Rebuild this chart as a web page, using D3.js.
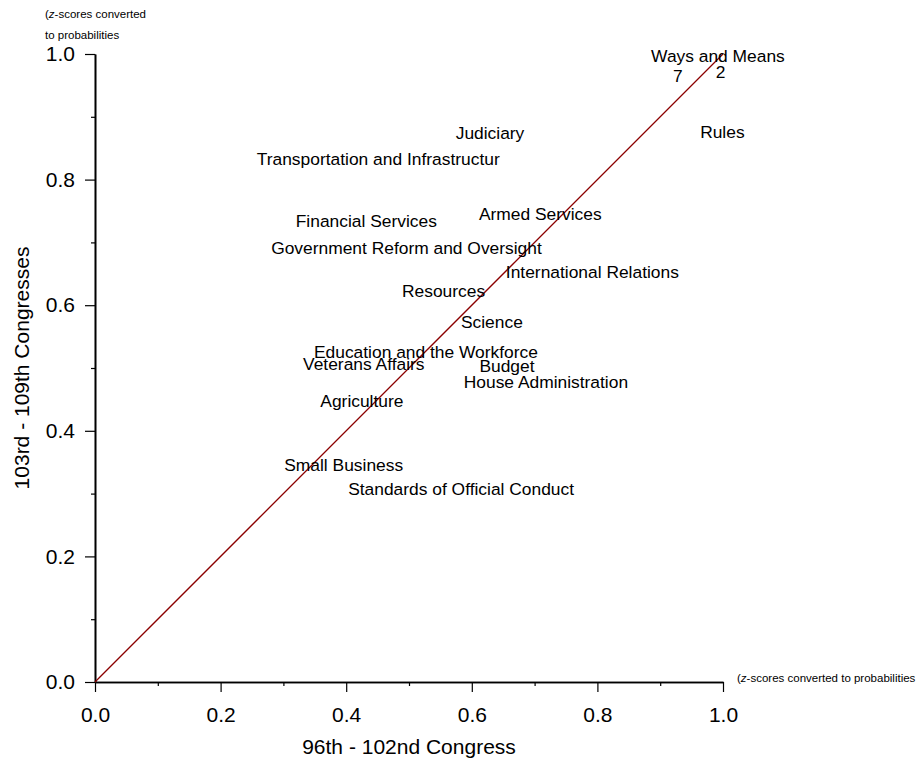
<!DOCTYPE html>
<html>
<head>
<meta charset="utf-8">
<script src="https://cdn.jsdelivr.net/npm/d3@7"></script>
<style>
  body { margin: 0; background: #fff; }
  text { font-family: "Liberation Sans", Arial, sans-serif; fill: #000; }
</style>
</head>
<body>
<div id="chart"></div>
<script>
// committee names and where their labels sit (x: 96th-102nd, y: 103rd-109th)
const committees = [
  "Ways and Means", "7", "2", "Rules", "Judiciary",
  "Transportation and Infrastructur", "Financial Services", "Armed Services",
  "Government Reform and Oversight", "International Relations", "Resources",
  "Science", "Education and the Workforce", "Veterans Affairs", "Budget",
  "House Administration", "Agriculture", "Small Business",
  "Standards of Official Conduct"
];
const earlyScores = [
  0.992, 0.928, 0.996, 0.999, 0.629,
  0.451, 0.432, 0.709,
  0.496, 0.792, 0.555,
  0.632, 0.527, 0.428, 0.656,
  0.718, 0.425, 0.396,
  0.583
];
const lateScores = [
  0.997, 0.965, 0.971, 0.876, 0.875,
  0.833, 0.734, 0.745,
  0.691, 0.653, 0.622,
  0.574, 0.526, 0.506, 0.504,
  0.478, 0.447, 0.346,
  0.307
];
const majorTicks = [0, 0.2, 0.4, 0.6, 0.8, 1.0];
const minorTicks = [0.1, 0.3, 0.5, 0.7, 0.9];

const W = 918, H = 767;
const margin = { top: 54, right: 195, bottom: 85, left: 95 };
const width = W - margin.left - margin.right,
      height = H - margin.top - margin.bottom;

const svg = d3.select("#chart").append("svg")
    .attr("width", W)
    .attr("height", H);

const g = svg.append("g")
    .attr("transform", "translate(" + margin.left + "," + margin.top + ")");

const x = d3.scaleLinear().domain([0, 1]).range([0, width]);
const y = d3.scaleLinear().domain([0, 1]).range([height, 0]);

// minor ticks first, then major axis on top
g.append("g")
    .attr("transform", "translate(0," + height + ")")
    .call(d3.axisBottom(x).tickValues(minorTicks).tickSize(4).tickSizeOuter(0).tickFormat(""));
g.append("g")
    .call(d3.axisLeft(y).tickValues(minorTicks).tickSize(4).tickSizeOuter(0).tickFormat(""));

const xAxis = g.append("g")
    .attr("transform", "translate(0," + height + ")")
    .call(d3.axisBottom(x).tickValues(majorTicks).tickSize(10).tickSizeOuter(0)
        .tickPadding(15).tickFormat(d3.format(".1f")));
const yAxis = g.append("g")
    .call(d3.axisLeft(y).tickValues(majorTicks).tickSize(10).tickSizeOuter(0)
        .tickPadding(10).tickFormat(d3.format(".1f")));

g.selectAll(".domain").attr("stroke", "#000").attr("stroke-width", 1.6);
g.selectAll(".tick line").attr("stroke", "#000").attr("stroke-width", 1.2);
xAxis.selectAll("text").style("font-size", "21px").attr("fill", "#000");
yAxis.selectAll("text").style("font-size", "21px").attr("fill", "#000");

// 45 degree reference line
g.append("line")
    .attr("x1", x(0)).attr("y1", y(0))
    .attr("x2", x(1)).attr("y2", y(1))
    .attr("stroke", "#8b0000")
    .attr("stroke-width", 1.3);

// committee labels
g.selectAll(".lbl")
    .data(committees)
    .enter().append("text")
    .attr("class", "lbl")
    .attr("x", function(d, i) { return x(earlyScores[i]); })
    .attr("y", function(d, i) { return y(lateScores[i]); })
    .attr("dy", "0.35em")
    .attr("text-anchor", "middle")
    .style("font-size", "17.4px")
    .text(function(d) { return d; });

// axis titles
svg.append("text")
    .attr("x", margin.left + width / 2)
    .attr("y", 754)
    .attr("text-anchor", "middle")
    .style("font-size", "21px")
    .text("96th - 102nd Congress");

svg.append("text")
    .attr("transform", "translate(29," + (margin.top + height / 2) + ") rotate(-90)")
    .attr("text-anchor", "middle")
    .style("font-size", "21px")
    .text("103rd - 109th Congresses");

// small unit notes
const note1 = svg.append("text").attr("x", 45).attr("y", 18).style("font-size", "11.5px");
note1.append("tspan").text("(");
note1.append("tspan").style("font-style", "italic").text("z");
note1.append("tspan").text("-scores converted");
svg.append("text").attr("x", 45).attr("y", 39).style("font-size", "11.5px").text("to probabilities");

const note2 = svg.append("text").attr("x", 737).attr("y", 682).style("font-size", "11.5px");
note2.append("tspan").text("(");
note2.append("tspan").style("font-style", "italic").text("z");
note2.append("tspan").text("-scores converted to probabilities");
</script>
</body>
</html>
